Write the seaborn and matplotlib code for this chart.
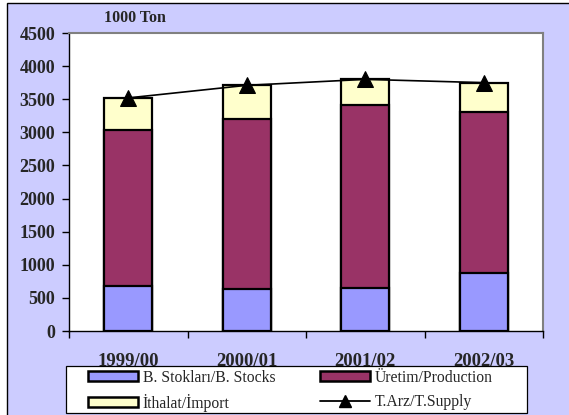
import matplotlib
matplotlib.use("Agg")
import matplotlib.pyplot as plt
from matplotlib.patches import Rectangle, Patch
from matplotlib.lines import Line2D
import seaborn as sns
import numpy as np

categories = ["1999/00", "2000/01", "2001/02", "2002/03"]
stocks = [680, 640, 650, 880]
production = [2360, 2560, 2770, 2420]
imports = [480, 510, 380, 450]
supply = [3520, 3710, 3800, 3750]
y_ticks = [0, 500, 1000, 1500, 2000, 2500, 3000, 3500, 4000, 4500]

sns.set_theme(style="white")
plt.rcParams["font.family"] = ["Liberation Serif", "DejaVu Serif"]

W, H = 569, 415
fig = plt.figure(figsize=(W / 100, H / 100), dpi=100)
fig.patch.set_facecolor("white")
fig.patches.append(Rectangle((7 / W, -0.1), 1.2, 1 - 3 / H + 0.1, transform=fig.transFigure,
                             facecolor="#CCCCFF", edgecolor="black", linewidth=1.0, zorder=-5))
# legend box
fig.patches.append(Rectangle((66 / W, 1 - 413 / H), (527 - 66) / W, (413 - 366) / H,
                             transform=fig.transFigure, facecolor="white",
                             edgecolor="black", linewidth=0.9, zorder=1))

ax = fig.add_axes([69 / W, 1 - 331 / H, (543 - 69) / W, (331 - 33) / H])
ax.set_facecolor("white")

cum_prod = [s + p for s, p in zip(stocks, production)]
cum_all = [c + i for c, i in zip(cum_prod, imports)]

bw = 0.405
for vals, col in [(cum_all, "#FFFFCC"), (cum_prod, "#993366"), (stocks, "#9999FF")]:
    sns.barplot(x=categories, y=vals, color=col, width=bw, edgecolor="black",
                linewidth=1.6, saturation=1, ax=ax, zorder=2)

sns.lineplot(x=categories, y=supply, color="black", marker="^", markersize=11,
             markeredgecolor="black", linewidth=1.2, ax=ax, zorder=5)

ax.set_xlim(-0.5, 3.5)
ax.set_ylim(0, 4500)
ax.set_yticks(y_ticks)
ax.set_yticklabels([str(v) for v in y_ticks], fontsize=13, fontweight="bold")
ax.set_xticks([-0.5, 0.5, 1.5, 2.5, 3.5])
ax.set_xticklabels([])
ax.set_xticks(range(len(categories)), minor=True)
ax.set_xticklabels(categories, minor=True, fontsize=13.5, fontweight="bold")
ax.tick_params(axis="x", which="major", direction="out", length=5, width=1, color="black", bottom=True)
ax.tick_params(axis="x", which="minor", length=0, pad=16, bottom=True)
ax.tick_params(axis="y", direction="out", length=5, width=1, color="black", left=True, pad=5)
ax.set_xlabel("")
ax.set_ylabel("")
for s in ["left", "bottom"]:
    ax.spines[s].set_color("black")
    ax.spines[s].set_linewidth(1.0)
for s in ["top", "right"]:
    ax.spines[s].set_color("#808080")
    ax.spines[s].set_linewidth(1.5)
ax.grid(False)

fig.text(104 / W, 1 - 18 / H, "1000 Ton", fontsize=11.5, fontweight="bold", va="center", ha="left")

handles = [
    Patch(facecolor="#9999FF", edgecolor="black", linewidth=1.8),
    Patch(facecolor="#FFFFCC", edgecolor="black", linewidth=1.8),
    Patch(facecolor="#993366", edgecolor="black", linewidth=1.8),
    Line2D([0], [0], color="black", marker="^", markersize=9, linewidth=1.3),
]
labels = ["B. Stokları/B. Stocks", "İthalat/İmport", "Üretim/Production", "T.Arz/T.Supply"]
leg = fig.legend(handles, labels, ncol=2, loc="upper left",
                 bbox_to_anchor=(88 / W, 1 - 370 / H),
                 frameon=False, fontsize=11.3,
                 handlelength=3.2, handleheight=0.6, labelspacing=0.5,
                 borderpad=0, handletextpad=0.3, columnspacing=2.8, borderaxespad=0)
leg.set_zorder(3)

fig.savefig("out.png", dpi=100, facecolor=fig.get_facecolor())
